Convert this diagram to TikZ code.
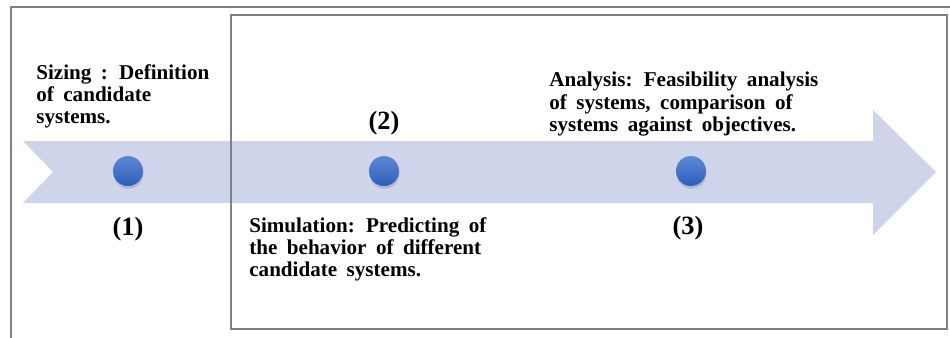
\documentclass[tikz,border=0pt]{standalone}
\usepackage{fontspec}
\setmainfont{Liberation Serif}
\usetikzlibrary{shadows}

\definecolor{bandcol}{RGB}{206,212,234}
\definecolor{dottop}{RGB}{92,136,214}
\definecolor{dotbot}{RGB}{46,94,186}
\definecolor{framecol}{RGB}{128,128,128}
\newcommand{\stagefont}{\bfseries\fontsize{12}{12.6}\selectfont\spaceskip=0.45em plus 0.1em\relax}

\begin{document}
\begin{tikzpicture}[x=0.02cm,y=-0.02cm]
\tikzstyle{every node}+=[inner sep=0pt]
\tikzset{
  stagedot/.style={circle, minimum size=0.6cm, top color=dottop, bottom color=dotbot,
    drop shadow={shadow xshift=0.3pt, shadow yshift=-1.5pt, opacity=0.35}},
  stagenum/.style={font=\bfseries\fontsize{15}{18}\selectfont},
  stagetext/.style={anchor=north west, align=left, font=\stagefont}
}
\useasboundingbox (0,0) rectangle (950,338);
% frames
\draw [framecol, line width=0.8pt] (11,345) -- (11,7) -- (960,7);
\draw [framecol, line width=0.8pt] (231,15) rectangle (947,329);
% timeline arrow
\fill [bandcol] (23,141) -- (873,141) -- (873,110) -- (936,172) -- (873,235)
  -- (873,203) -- (23,203) -- (53,172) -- cycle;
\draw [framecol, line width=0.8pt] (231,141) -- (231,203);
% stages
\node [stagedot] (d1) at (128,171) {};
\node [stagedot] (d2) at (384,171) {};
\node [stagedot] (d3) at (691,171) {};
\node [stagenum] (n1) at (128,229) {(1)};
\node [stagenum] (n2) at (384,123) {(2)};
\node [stagenum] (n3) at (688,228) {(3)};
\node [stagetext] (t1) at (36,64) {Sizing : Definition\\of candidate\\systems.};
\node [stagetext] (t2) at (249,217) {Simulation: Predicting of\\the behavior of different\\candidate systems.};
\node [stagetext] (t3) at (549,72) {Analysis: Feasibility analysis\\of systems, comparison of\\systems against objectives.};
\end{tikzpicture}
\end{document}
